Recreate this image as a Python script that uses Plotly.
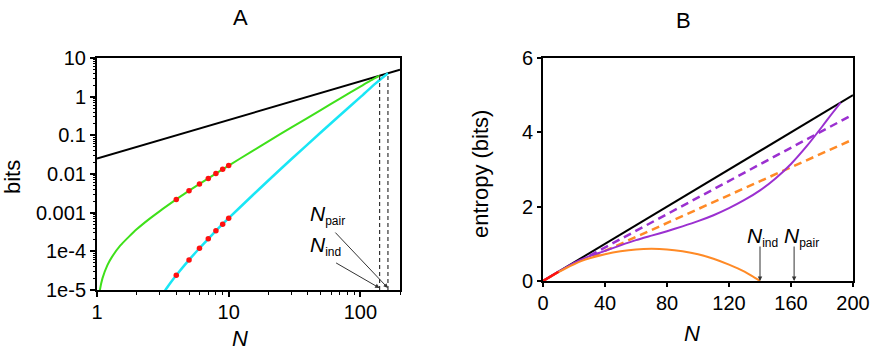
import math

import plotly.graph_objects as go

# ---- panel A (log-log): information in bits vs N ----
black_a_n = [1, 200]
black_a_bits = [0.025, 5]

green_n = [1.02, 1.05, 1.1, 1.2, 1.3, 1.5, 1.75, 2, 2.5, 3, 4, 5, 7, 10, 15, 20, 30, 50, 70, 100, 120, 140]
green_bits = [3.7e-6, 9.6e-6, 2.0e-5, 4.4e-5, 7.2e-5, 1.4e-4, 2.4e-4, 3.7e-4, 6.9e-4, 1.1e-3,
              2.2e-3, 3.7e-3, 7.7e-3, 0.0165, 0.0385, 0.070, 0.16, 0.45, 0.89, 1.82, 2.62, 3.5]

cyan_n = [3.2, 3.4, 3.7, 4, 5, 6, 7, 8, 10, 15, 20, 30, 50, 70, 100, 130, 162]
cyan_bits = [8.4e-6, 1.14e-5, 1.7e-5, 2.4e-5, 6.0e-5, 1.2e-4, 2.1e-4, 3.4e-4, 7.2e-4, 2.7e-3,
             6.8e-3, 0.0244, 0.118, 0.33, 0.97, 2.18, 4.05]

dot_n = [4, 5, 6, 7, 8, 9, 10]
dot_green = [0.0022, 0.0037, 0.0055, 0.0077, 0.0103, 0.0132, 0.0165]
dot_cyan = [2.4e-5, 6.0e-5, 1.2e-4, 2.1e-4, 3.4e-4, 5.0e-4, 7.2e-4]

n_ind = 140
n_pair = 162
ind_top = 3.5
pair_top = 4.05

a_xticks = [1, 10, 100]
a_xtick_text = ["1", "10", "100"]
a_xminor = [2, 3, 4, 5, 6, 7, 8, 9, 20, 30, 40, 50, 60, 70, 80, 90, 200]
a_yticks = [1e-5, 1e-4, 1e-3, 1e-2, 0.1, 1, 10]
a_ytick_text = ["1e-5", "1e-4", "0.001", "0.01", "0.1", "1", "10"]
a_yminor = [m * 10.0 ** e for e in range(-5, 1) for m in (2, 3, 4, 5, 6, 7, 8, 9)]

# ---- panel B (linear): entropy in bits vs N ----
black_b_n = [0, 200]
black_b_bits = [0, 5]
red_b_n = [0, 10]
red_b_bits = [0, 0.25]

purple_n = [0, 10, 20, 30, 40, 50, 60, 70, 80, 90, 100, 110, 120, 130, 140, 150, 160, 170, 180, 186, 192]
purple_bits = [0, 0.25, 0.49, 0.67, 0.81, 0.96, 1.10, 1.22, 1.34, 1.47, 1.61, 1.77, 1.96,
               2.18, 2.44, 2.76, 3.15, 3.62, 4.15, 4.48, 4.80]

orange_n = [0, 5, 10, 15, 20, 25, 30, 40, 50, 60, 70, 80, 90, 100, 110, 120, 130, 135, 140]
orange_bits = [0, 0.12, 0.24, 0.35, 0.45, 0.54, 0.61, 0.72, 0.80, 0.85, 0.865, 0.85, 0.80,
               0.72, 0.60, 0.44, 0.25, 0.13, 0]

purple_dash_n = [30, 200]
purple_dash_bits = [0.68, 4.48]
orange_dash_n = [32, 200]
orange_dash_bits = [0.66, 3.81]

b_xticks = [0, 40, 80, 120, 160, 200]
b_yticks = [0, 2, 4, 6]

FONT = "Liberation Sans, Arial, sans-serif"
GREEN = "#3fe01a"
CYAN = "#19e6f5"
PURPLE = "#9b30d0"
ORANGE = "#ff8a26"

fig = go.Figure()

# panel A traces
fig.add_trace(go.Scatter(x=black_a_n, y=black_a_bits, mode="lines",
                         line=dict(color="black", width=2), xaxis="x", yaxis="y"))
fig.add_trace(go.Scatter(x=green_n, y=green_bits, mode="lines",
                         line=dict(color=GREEN, width=2, shape="spline", smoothing=0.6),
                         xaxis="x", yaxis="y"))
fig.add_trace(go.Scatter(x=cyan_n, y=cyan_bits, mode="lines",
                         line=dict(color=CYAN, width=2.5, shape="spline", smoothing=0.6),
                         xaxis="x", yaxis="y"))
for nv, top in ((n_ind, ind_top), (n_pair, pair_top)):
    fig.add_trace(go.Scatter(x=[nv, nv], y=[1e-5, top], mode="lines",
                             line=dict(color="#333333", width=1.2, dash="4px,3px"),
                             xaxis="x", yaxis="y"))
fig.add_trace(go.Scatter(x=dot_n + dot_n, y=dot_green + dot_cyan, mode="markers",
                         marker=dict(color="#ff1010", size=5.5), xaxis="x", yaxis="y",
                         cliponaxis=False))

# panel B traces
fig.add_trace(go.Scatter(x=black_b_n, y=black_b_bits, mode="lines",
                         line=dict(color="black", width=2), xaxis="x2", yaxis="y2"))
fig.add_trace(go.Scatter(x=purple_dash_n, y=purple_dash_bits, mode="lines",
                         line=dict(color=PURPLE, width=2.5, dash="8px,5px"),
                         xaxis="x2", yaxis="y2"))
fig.add_trace(go.Scatter(x=orange_dash_n, y=orange_dash_bits, mode="lines",
                         line=dict(color=ORANGE, width=2.5, dash="8px,5px"),
                         xaxis="x2", yaxis="y2"))
fig.add_trace(go.Scatter(x=purple_n, y=purple_bits, mode="lines",
                         line=dict(color=PURPLE, width=2, shape="spline", smoothing=0.5),
                         xaxis="x2", yaxis="y2"))
fig.add_trace(go.Scatter(x=orange_n, y=orange_bits, mode="lines",
                         line=dict(color=ORANGE, width=2, shape="spline", smoothing=0.6),
                         xaxis="x2", yaxis="y2"))
fig.add_trace(go.Scatter(x=red_b_n, y=red_b_bits, mode="lines",
                         line=dict(color="#ff1010", width=2.5), xaxis="x2", yaxis="y2"))

axis_common = dict(showgrid=False, zeroline=False, showline=True, linecolor="black",
                   linewidth=2, mirror=True, ticks="outside", tickcolor="black",
                   automargin=False,
                   tickfont=dict(family=FONT, size=20, color="black"))

fig.update_layout(
    template="none",
    width=872, height=355,
    margin=dict(l=0, r=0, t=0, b=0, pad=0),
    paper_bgcolor="white", plot_bgcolor="white",
    showlegend=False,
    font=dict(family=FONT, color="black"),
    xaxis=dict(axis_common, type="log", domain=[97 / 872, 400 / 872],
               range=[0, math.log10(200)], tickvals=a_xticks, ticktext=a_xtick_text,
               ticklen=5, tickwidth=1.5, ticklabelstandoff=-2, anchor="y",
               minor=dict(tickvals=a_xminor, ticks="outside", ticklen=3,
                          tickcolor="black", tickwidth=1)),
    yaxis=dict(axis_common, type="log", domain=[1 - 290 / 355, 1 - 58 / 355],
               range=[-5, 1], tickvals=a_yticks, ticktext=a_ytick_text,
               ticklen=5, tickwidth=1.5, anchor="x",
               minor=dict(tickvals=a_yminor, ticks="outside", ticklen=2.5,
                          tickcolor="black", tickwidth=1)),
    xaxis2=dict(axis_common, domain=[543 / 872, 853 / 872], range=[0, 200],
                tickvals=b_xticks, ticklen=4, tickwidth=1.5, ticklabelstandoff=-1,
                anchor="y2"),
    yaxis2=dict(axis_common, domain=[1 - 281 / 355, 1 - 58 / 355], range=[0, 6],
                tickvals=b_yticks, ticklen=4, tickwidth=1.5, anchor="x2"),
)

ann = []
label_font = dict(family=FONT, size=21, color="black")


def n_label(sub):
    return "<i>N</i><sub><span style='font-size:12px'>" + sub + "</span></sub>"


# panel titles and axis titles (paper pixels)
for txt, px, py, rot in (("A", 240, 17, 0), ("B", 683, 20, 0),
                         ("<i>N</i>", 240, 338, 0), ("<i>N</i>", 692, 333, 0),
                         ("bits", 12, 177, -90), ("entropy (bits)", 480, 174, -90)):
    ann.append(dict(text=txt, x=px / 872, y=1 - py / 355, xref="paper", yref="paper",
                    showarrow=False, xanchor="center", yanchor="middle", textangle=rot,
                    font=dict(family=FONT, size=22, color="black")))

# panel A labels and arrows
ann.append(dict(text=n_label("pair"), x=math.log10(40), y=-3.05, xref="x", yref="y",
                showarrow=False, xanchor="left", yanchor="middle", font=label_font))
ann.append(dict(text=n_label("ind"), x=math.log10(40), y=-3.85, xref="x", yref="y",
                showarrow=False, xanchor="left", yanchor="middle", font=label_font))
for nv, ax, ay in ((n_pair, -54, -57), (n_ind, -45, -26)):
    ann.append(dict(text="", x=math.log10(nv), y=-4.95, xref="x", yref="y", ax=ax, ay=ay,
                    showarrow=True, arrowhead=2, arrowsize=0.9, arrowwidth=1,
                    arrowcolor="#333333", standoff=0))

# panel B labels and arrows
ann.append(dict(text=n_label("ind"), x=130.5, y=1.18, xref="x2", yref="y2",
                showarrow=False, xanchor="left", yanchor="middle", font=label_font))
ann.append(dict(text=n_label("pair"), x=154, y=1.18, xref="x2", yref="y2",
                showarrow=False, xanchor="left", yanchor="middle", font=label_font))
for nv in (n_ind, n_pair):
    ann.append(dict(text="", x=nv, y=0, xref="x2", yref="y2", ax=0, ay=-36,
                    showarrow=True, arrowhead=2, arrowsize=0.9, arrowwidth=1,
                    arrowcolor="#333333", standoff=0))

fig.update_layout(annotations=ann)
# the page's default body margin would shift the figure by 8px
fig.write_html("out.html", config={"displayModeBar": False},
               post_script="document.body.style.margin='0';")
